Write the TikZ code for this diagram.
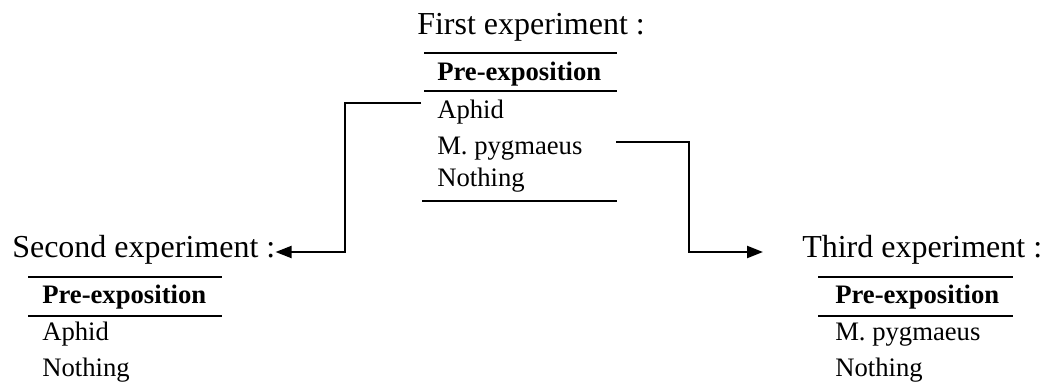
\documentclass[tikz,border=0pt]{standalone}
\usepackage{fontspec}
\setmainfont{Liberation Serif}
\usetikzlibrary{arrows.meta}
\begin{document}
\begin{tikzpicture}[x=0.75pt,y=-0.75pt,
  title/.style={anchor=base west,inner sep=0pt,font=\fontsize{24}{28}\selectfont},
  entry/.style={anchor=base west,inner sep=0pt,font=\fontsize{20}{24}\selectfont},
  head/.style={entry,font=\fontsize{20}{24}\selectfont\bfseries},
  rule/.style={line width=2pt},
  conn/.style={line width=1.6pt},
  arr/.style={conn,-{Triangle[length=12pt,width=9pt]}}]
\useasboundingbox (0,0) rectangle (1045,385);
% first experiment
\node[title] (first) at (417,35) {First experiment :};
\node[head] (h1) at (437,80) {Pre-exposition};
\node[entry] (a1) at (437,118) {Aphid};
\node[entry] (m1) at (437,154) {M. pygmaeus};
\node[entry] (n1) at (437,186) {Nothing};
\draw[rule] (424,53) -- (617,53);
\draw[rule] (424,91) -- (617,91);
\draw[rule] (422,201) -- (617,201);
% second experiment
\node[title] (second) at (12,257) {Second experiment :};
\node[head] (h2) at (42,303) {Pre-exposition};
\node[entry] (a2) at (42,340) {Aphid};
\node[entry] (n2) at (42,376) {Nothing};
\draw[rule] (28,277) -- (222,277);
\draw[rule] (28,316) -- (222,316);
% third experiment
\node[title] (third) at (802,257) {Third experiment :};
\node[head] (h3) at (835,303) {Pre-exposition};
\node[entry] (m3) at (835,340) {M. pygmaeus};
\node[entry] (n3) at (835,376) {Nothing};
\draw[rule] (818,277) -- (1013,277);
\draw[rule] (818,316) -- (1013,316);
% connectors
\coordinate (s1) at (421,103);
\coordinate (k1) at (345,252);
\draw[arr] (s1) -| (k1) -- (second.east |- k1);
\coordinate (s2) at (616,142);
\coordinate (k2) at (689,252);
\coordinate (e2) at (763,252);
\draw[arr] (s2) -| (k2) -- (e2);
\end{tikzpicture}
\end{document}
